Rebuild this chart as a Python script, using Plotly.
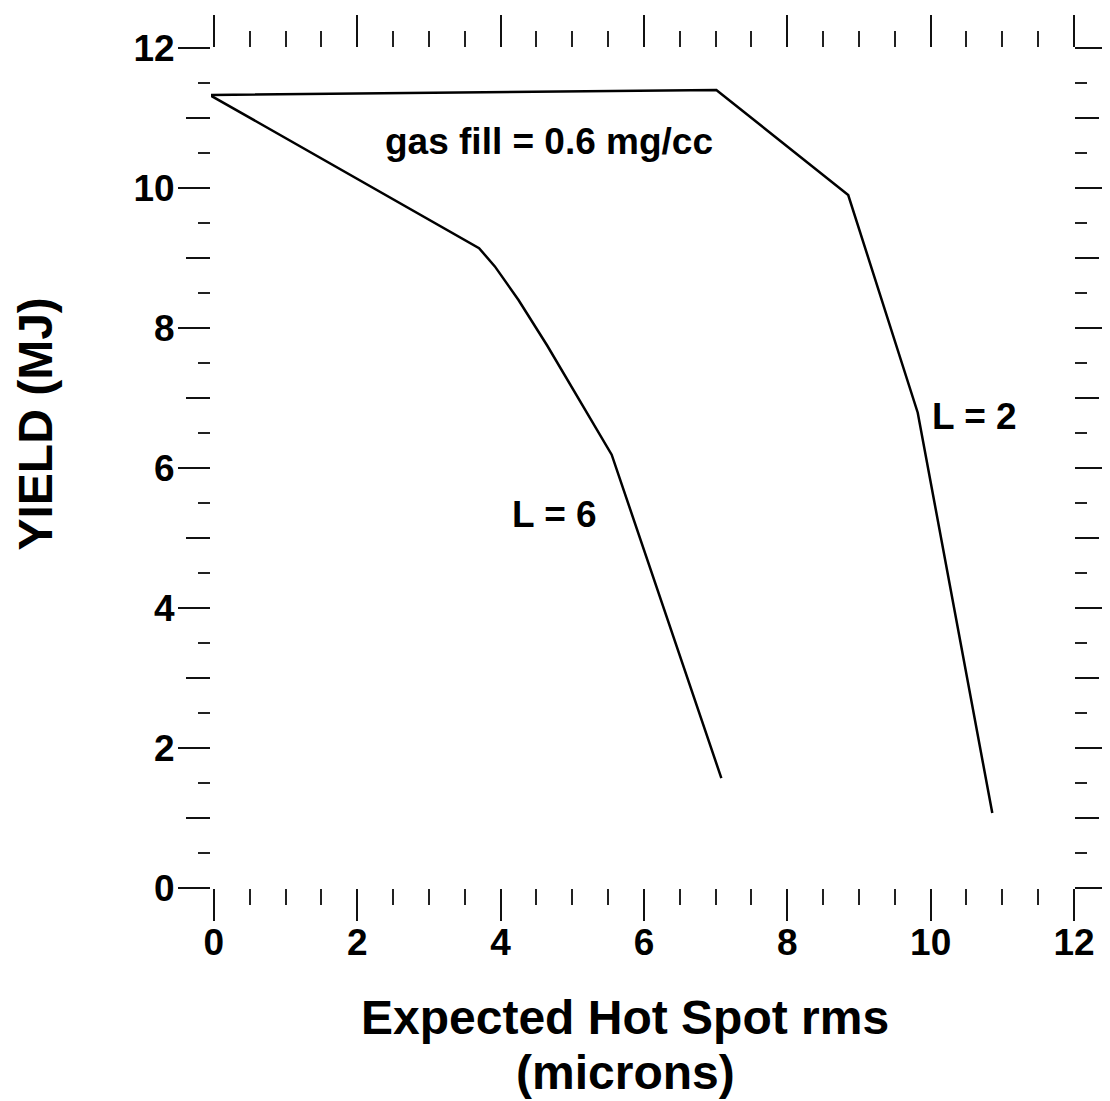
import plotly.graph_objects as go

# Data
l6_x = [-0.06, 3.70, 3.92, 4.25, 4.65, 5.10, 5.55, 7.08]
l6_y = [11.33, 9.14, 8.88, 8.40, 7.75, 6.98, 6.19, 1.57]
l2_x = [-0.06, 7.01, 8.85, 9.82, 10.86]
l2_y = [11.33, 11.40, 9.90, 6.79, 1.07]

x_tickvals = [0, 2, 4, 6, 8, 10, 12]
y_tickvals = [0, 2, 4, 6, 8, 10, 12]

FONT = "Liberation Sans, Arial, Helvetica, sans-serif"

fig = go.Figure()
fig.add_trace(go.Scatter(x=l6_x, y=l6_y, mode="lines",
                         line=dict(color="black", width=2.5), showlegend=False))
fig.add_trace(go.Scatter(x=l2_x, y=l2_y, mode="lines",
                         line=dict(color="black", width=2.5), showlegend=False))
# invisible trace to carry the secondary y-axis (medium tick marks)
fig.add_trace(go.Scatter(x=[None], y=[None], yaxis="y2", mode="lines", showlegend=False))

common = dict(showline=False, showgrid=False, zeroline=False, ticks="outside",
              tickcolor="#111111", mirror="ticks")

fig.update_layout(
    width=1102, height=1093,
    margin=dict(l=203, r=36, t=40, b=213),
    paper_bgcolor="white", plot_bgcolor="white",
    xaxis=dict(range=[-0.04, 12], tickmode="array", tickvals=x_tickvals,
               ticktext=[str(v) for v in x_tickvals], ticklen=32, tickwidth=2,
               ticklabelstandoff=-10,
               tickfont=dict(family=FONT, size=37, color="black", weight="bold"),
               minor=dict(ticks="outside", dtick=0.5, tick0=0, ticklen=16, tickwidth=2,
                          tickcolor="#222222", showgrid=False),
               **common),
    yaxis=dict(range=[0, 12], tickmode="array", tickvals=y_tickvals,
               ticktext=[str(v) for v in y_tickvals], ticklen=32, tickwidth=2,
               ticklabelstandoff=-4,
               tickfont=dict(family=FONT, size=37, color="black", weight="bold"),
               minor=dict(ticks="outside", dtick=0.5, tick0=0, ticklen=12, tickwidth=2,
                          tickcolor="#222222", showgrid=False),
               **common),
    yaxis2=dict(range=[0, 12], overlaying="y", side="left", anchor="x",
                dtick=1, tick0=0, ticklen=24, tickwidth=2, showticklabels=False,
                **common),
)

ann_font = dict(family=FONT, size=37, color="black", weight="bold")
fig.add_annotation(x=4.67, y=10.67, xref="x", yref="y", text="gas fill = 0.6 mg/cc",
                   showarrow=False, font=ann_font, xanchor="center", yanchor="middle")
fig.add_annotation(x=4.75, y=5.34, xref="x", yref="y", text="L = 6",
                   showarrow=False, font=ann_font, xanchor="center", yanchor="middle")
fig.add_annotation(x=10.61, y=6.74, xref="x", yref="y", text="L = 2",
                   showarrow=False, font=ann_font, xanchor="center", yanchor="middle")

title_font = dict(family=FONT, size=48, color="black", weight="bold")
fig.add_annotation(x=(625 - 211) / 863, y=(888 - 1018) / 840, xref="paper", yref="paper",
                   text="Expected Hot Spot rms", showarrow=False, font=title_font,
                   xanchor="center", yanchor="middle")
fig.add_annotation(x=(625 - 211) / 863, y=(888 - 1072) / 840, xref="paper", yref="paper",
                   text="(microns)", showarrow=False, font=title_font,
                   xanchor="center", yanchor="middle")
fig.add_annotation(x=(35.5 - 211) / 863, y=(888 - 424) / 840, xref="paper", yref="paper",
                   text="YIELD (MJ)", showarrow=False, font=title_font, textangle=-90,
                   xanchor="center", yanchor="middle")

fig.write_html("out.html")
